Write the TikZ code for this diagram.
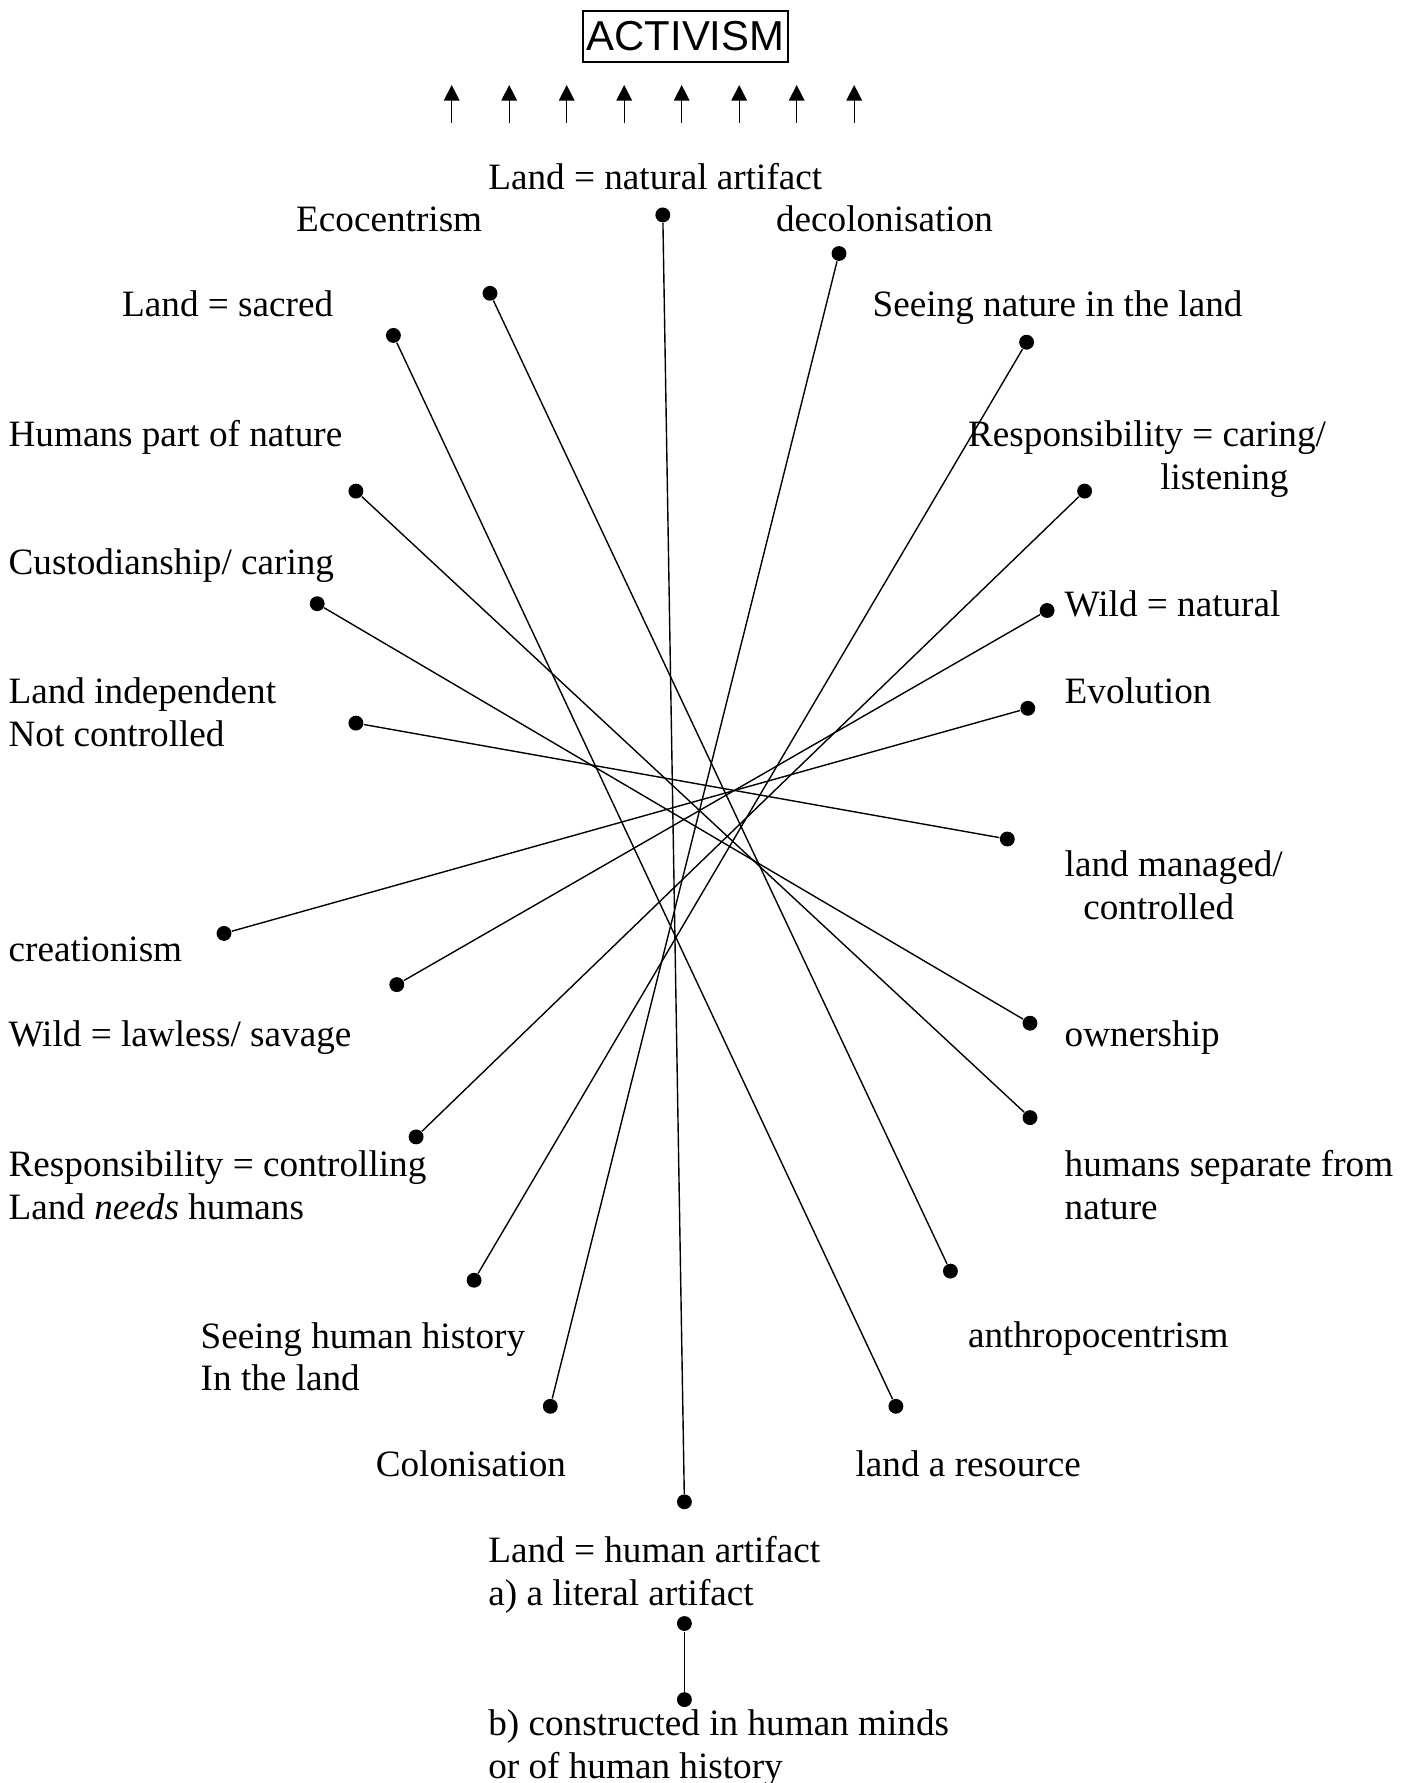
\documentclass[tikz,border=0pt]{standalone}
\usepackage{fontspec}
\setmainfont{Liberation Serif}
\newfontfamily\arialfont{Liberation Sans}
\usetikzlibrary{arrows.meta}

\tikzset{
    term/.style={anchor=base west, inner sep=0pt, align=left, font=\fontsize{12}{13.8}\selectfont},
    blob/.style={circle, fill, inner sep=0pt, minimum size=4.8pt},
    link/.style={line width=0.45pt},
}

\begin{document}
\begin{tikzpicture}[x=0.3226pt, y=-0.3226pt]
    \useasboundingbox (0,0) rectangle (1412,1783);

    % Title
    \node [draw, line width=0.5pt, inner sep=0pt, minimum width=66pt, minimum height=16.5pt,
           font=\arialfont\fontsize{13.5}{15}\selectfont] (activism) at (685.5,36.5) {ACTIVISM};

    % Arrows towards activism
    \foreach \i in {0,...,7} {
        \coordinate (up\i) at (451.7+57.5*\i, 123);
        \coordinate (tip\i) at (451.7+57.5*\i, 85);
        \draw [link, -{Triangle[length=5pt, width=5pt]}] (up\i) -- (tip\i);
    }

    % Labels (multi-line ones sit on the base of their last line)
    \node [term] (natart) at (487.7,189.4) {Land = natural artifact};
    \node [term] (eco) at (295.6,231.4) {Ecocentrism};
    \node [term] (decol) at (775.4,231.4) {decolonisation};
    \node [term] (sacred) at (121.6,316.7) {Land = sacred};
    \node [term] (seenat) at (872.0,316.7) {Seeing nature in the land};
    \node [term] (humpart) at (8,446.3) {Humans part of nature};
    \node [term] (respcare) at (967.5,489.3) {Responsibility = caring/\\\hspace*{62pt}listening};
    \node [term] (custod) at (8,574.8) {Custodianship/ caring};
    \node [term] (wildnat) at (1064.1,616.8) {Wild = natural};
    \node [term] (landind) at (8,746.2) {Land independent\\Not controlled};
    \node [term] (evol) at (1064.1,703.2) {Evolution};
    \node [term] (managed) at (1064.1,919.0) {land managed/\\\hspace*{6pt}controlled};
    \node [term] (creat) at (8,961.3) {creationism};
    \node [term] (wildlaw) at (8,1046.6) {Wild = lawless/ savage};
    \node [term] (owner) at (1064.1,1046.6) {ownership};
    \node [term] (respctrl) at (8,1219.2) {Responsibility = controlling\\Land \textit{needs} humans};
    \node [term] (humsep) at (1064.1,1219.2) {humans separate from\\nature};
    \node [term] (seehist) at (200.1,1390.8) {Seeing human history\\In the land};
    \node [term] (anthro) at (967.5,1347.8) {anthropocentrism};
    \node [term] (colon) at (375.2,1476.3) {Colonisation};
    \node [term] (resource) at (855.0,1476.3) {land a resource};
    \node [term] (humart) at (487.7,1605.7) {Land = human artifact\\a) a literal artifact};
    \node [term] (constr) at (487.7,1778.0) {b) constructed in human minds\\or of human history};

    % Dots
    \node [blob] (pNatArt) at (662.8,214.9) {};
    \node [blob] (pDecol) at (839.0,253.5) {};
    \node [blob] (pEco) at (490.0,293.3) {};
    \node [blob] (pSacred) at (393.4,335.4) {};
    \node [blob] (pSeeNat) at (1026.6,342.2) {};
    \node [blob] (pHumPart) at (355.9,491.1) {};
    \node [blob] (pRespCare) at (1084.6,491.1) {};
    \node [blob] (pCustod) at (317.2,603.7) {};
    \node [blob] (pWildNat) at (1047.1,610.5) {};
    \node [blob] (pEvol) at (1027.8,708.3) {};
    \node [blob] (pLandInd) at (355.9,723.1) {};
    \node [blob] (pManaged) at (1007.3,839.0) {};
    \node [blob] (pCreat) at (224.0,933.4) {};
    \node [blob] (pWildLaw) at (396.8,984.6) {};
    \node [blob] (pOwner) at (1030.0,1023.2) {};
    \node [blob] (pRespCtrl) at (416.1,1136.9) {};
    \node [blob] (pHumSep) at (1030.0,1117.6) {};
    \node [blob] (pSeeHist) at (474.1,1280.2) {};
    \node [blob] (pAnthro) at (950.4,1271.1) {};
    \node [blob] (pColon) at (550.3,1406.3) {};
    \node [blob] (pResource) at (895.9,1406.3) {};
    \node [blob] (pHumArt) at (684.4,1501.8) {};
    \node [blob] (pLiteral) at (684.4,1623.5) {};
    \node [blob] (pConstr) at (684.4,1699.6) {};

    % Opposites
    \draw [link] (pNatArt) -- (pHumArt);
    \draw [link] (pDecol) -- (pColon);
    \draw [link] (pEco) -- (pAnthro);
    \draw [link] (pSacred) -- (pResource);
    \draw [link] (pSeeNat) -- (pSeeHist);
    \draw [link] (pHumPart) -- (pHumSep);
    \draw [link] (pRespCare) -- (pRespCtrl);
    \draw [link] (pCustod) -- (pOwner);
    \draw [link] (pWildNat) -- (pWildLaw);
    \draw [link] (pEvol) -- (pCreat);
    \draw [link] (pLandInd) -- (pManaged);
    \draw [link] (pLiteral) -- (pConstr);

\end{tikzpicture}
\end{document}
